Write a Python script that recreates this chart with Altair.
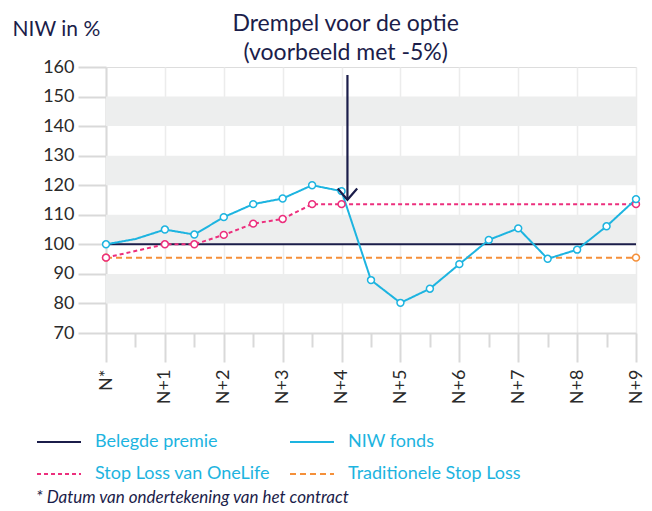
import altair as alt
import pandas as pd

# ---------------- data ----------------
year_labels = ["N*", "N+1", "N+2", "N+3", "N+4", "N+5", "N+6", "N+7", "N+8", "N+9"]
year_pos = [0, 1, 2, 3, 4, 5, 6, 7, 8, 9]
half_pos = [0.5, 1.5, 2.5, 3.5, 4.5, 5.5, 6.5, 7.5, 8.5]

series_names = ["Belegde premie", "NIW fonds", "Stop Loss van OneLife", "Traditionele Stop Loss"]
series_colors = ["#1b1d4a", "#1db4e0", "#ec2f7d", "#f5903a"]
series_dashes = [[1, 0], [1, 0], [4, 3], [6, 4]]

prem_x = [0, 9]
prem_v = [100, 100]
prem_m = [0, 0]

niw_x = [0, 0.5, 1, 1.5, 2, 2.5, 3, 3.5, 4, 4.5, 5, 5.5, 6, 6.5, 7, 7.5, 8, 8.5, 9]
niw_v = [100, 101.8, 105, 103.3, 109.2, 113.6, 115.5, 120, 118, 87.9, 80.2, 85,
         93.3, 101.5, 105.4, 95.1, 98.2, 106.1, 115.3]
niw_m = [1, 0, 1, 1, 1, 1, 1, 1, 1, 1, 1, 1, 1, 1, 1, 1, 1, 1, 1]

sl_x = [0, 1, 1.5, 2, 2.5, 3, 3.5, 4, 9]
sl_v = [95.5, 100, 100, 103.2, 107, 108.6, 113.6, 113.6, 113.6]
sl_m = [1, 1, 1, 1, 1, 1, 1, 1, 1]

trad_x = [0, 9]
trad_v = [95.5, 95.5]
trad_m = [1, 1]

band_lo = [80, 100, 120, 140]
band_hi = [90, 110, 130, 150]

y_ticks = [70, 80, 90, 100, 110, 120, 130, 140, 150, 160]

arrow_x = [4.1]
arrow_top = [157.3]
arrow_tip = [115.1]

note_x = [4.07]
note_y = [172.3]
note_text = ["Drempel voor de optie\n(voorbeeld met -5%)"]

footnote = "* Datum van ondertekening van het contract"

# ---------------- tables ----------------
rows = []
for name, xs_, vs, ms in [
    (series_names[0], prem_x, prem_v, prem_m),
    (series_names[3], trad_x, trad_v, trad_m),
    (series_names[2], sl_x, sl_v, sl_m),
    (series_names[1], niw_x, niw_v, niw_m),
]:
    for i, (xx, vv, mm) in enumerate(zip(xs_, vs, ms)):
        rows.append({"series": name, "x": xx, "v": vv, "m": mm, "i": i})
df = pd.DataFrame(rows)

bands = pd.DataFrame({"lo": band_lo, "hi": band_hi})
arrow = pd.DataFrame({"ax": arrow_x, "top": arrow_top, "tip": arrow_tip})
note = pd.DataFrame({"nx": note_x, "ny": note_y, "t": note_text})

NAVY = "#1b1d4a"
CYAN = "#1db4e0"
GRAY = "#d9d9d9"
FONT = "Lato"

W, H = 530, 266

xs = alt.Scale(domain=[0, 9], nice=False, zero=False)
ys = alt.Scale(domain=[70, 160], nice=False, zero=False)

label_expr = "[" + ",".join('"%s"' % s for s in year_labels) + "][round(datum.value)]"

main_x_axis = alt.Axis(
    orient="bottom", values=year_pos, labelExpr=label_expr, labelAngle=270,
    labelAlign="right", labelBaseline="middle", labelFont=FONT, labelFontSize=18,
    labelColor="#2a2a2a", labelPadding=7, tickSize=29, tickColor=GRAY, tickWidth=2,
    domainColor=GRAY, domainWidth=2, grid=True, gridColor="#ececec", gridWidth=1.5,
    title=None, labelBound=False, labelOverlap=False,
)
minor_x_axis = alt.Axis(
    orient="bottom", values=half_pos, labels=False, tickSize=14, tickColor=GRAY,
    tickWidth=2, domain=False, grid=False, title=None,
)
y_axis = alt.Axis(
    values=y_ticks, tickSize=28, tickColor=GRAY, tickWidth=2, domainColor=GRAY,
    domainWidth=2, grid=False, labelFont=FONT, labelFontSize=18, labelColor="#2a2a2a",
    labelPadding=4, title="NIW in %", titleAngle=0, titleAlign="left",
    titleBaseline="alphabetic", titleX=-94, titleY=-32, titleFont=FONT,
    titleFontSize=21, titleFontWeight="normal", titleColor=NAVY,
)

legend = alt.Legend(
    orient="none", legendX=-70, legendY=352, columns=2, direction="horizontal",
    symbolType="stroke", symbolSize=1936, symbolStrokeWidth=2, labelFont=FONT,
    labelFontSize=18, labelColor=CYAN, labelOffset=13, rowPadding=-13,
    columnPadding=16, title=footnote, titleOrient="bottom", titleAnchor="start",
    titleFont=FONT, titleFontStyle="italic", titleFontWeight="normal",
    titleFontSize=17, titleColor=NAVY, titlePadding=7, titleLimit=600,
    labelLimit=400,
)

color_scale = alt.Scale(domain=series_names, range=series_colors)
dash_scale = alt.Scale(domain=series_names, range=series_dashes)

band_layer = alt.Chart(bands).mark_rect(color="#edeeee").encode(
    y=alt.Y("lo:Q", scale=ys, axis=y_axis),
    y2="hi:Q",
)

line_layer = alt.Chart(df).mark_line(strokeWidth=2).encode(
    x=alt.X("x:Q", scale=xs, axis=main_x_axis),
    y=alt.Y("v:Q", scale=ys, axis=None),
    color=alt.Color("series:N", scale=color_scale, legend=legend, sort=series_names),
    strokeDash=alt.StrokeDash("series:N", scale=dash_scale, legend=legend, sort=series_names),
    order="i:Q",
)

point_layer = alt.Chart(df).transform_filter("datum.m == 1").mark_point(
    shape="circle", filled=False, fill="white", fillOpacity=1, opacity=1,
    size=48, strokeWidth=1.5,
).encode(
    x=alt.X("x:Q", scale=xs, axis=None),
    y=alt.Y("v:Q", scale=ys, axis=None),
    stroke=alt.Stroke("series:N", scale=color_scale, legend=None),
)

rule_layer = alt.Chart(arrow).mark_rule(color=NAVY, strokeWidth=2.2).encode(
    x=alt.X("ax:Q", scale=xs, axis=minor_x_axis),
    y=alt.Y("top:Q", scale=ys, axis=None),
    y2="tip:Q",
)

head_layer = alt.Chart(arrow).mark_point(
    shape="M-1,-1.15L0,0L1,-1.15", filled=False, color=NAVY, strokeWidth=2.2,
    size=380, opacity=1,
).encode(
    x=alt.X("ax:Q", scale=xs, axis=None),
    y=alt.Y("tip:Q", scale=ys, axis=None),
)

text_layer = alt.Chart(note).mark_text(
    font=FONT, fontSize=23, color=NAVY, align="center", baseline="alphabetic",
    lineBreak="\n", lineHeight=29,
).encode(
    x=alt.X("nx:Q", scale=xs, axis=None),
    y=alt.Y("ny:Q", scale=ys, axis=None),
    text="t:N",
)

chart = alt.layer(
    band_layer, line_layer, point_layer, rule_layer, head_layer, text_layer
).resolve_axis(x="independent", y="independent").properties(
    width=W, height=H,
    autosize=alt.AutoSizeParams(type="none"),
    padding={"left": 98, "top": 59, "right": 8, "bottom": 175},
).configure_view(stroke=None).configure(background="white")

chart.save("out.html", embed_options={"renderer": "svg", "actions": False})
